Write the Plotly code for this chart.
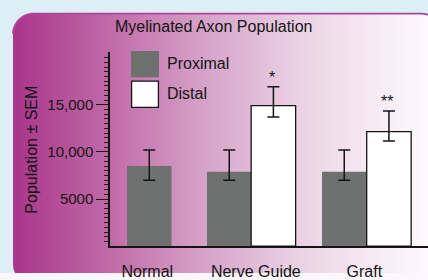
import numpy as np
import plotly.graph_objects as go

# ---------------- data ----------------
categories = ["Normal", "Nerve Guide", "Graft"]
proximal_mean = [8500, 7900, 7900]
proximal_err_plus = [1700, 2300, 2300]
proximal_err_minus = [1500, 900, 900]

distal_categories = ["Nerve Guide", "Graft"]
distal_mean = [14900, 12150]
distal_err_plus = [2000, 2200]
distal_err_minus = [1200, 1000]
significance = ["*", "**"]

y_tick_values = [5000, 10000, 15000]
y_tick_labels = ["5000", "10,000", "15,000"]

title_text = "Myelinated Axon Population"
y_title_text = "Population ± SEM"
legend_names = ["Proximal", "Distal"]

# ---------------- styling / layout ----------------
W, H = 428, 280
FONT = "Liberation Sans, Arial, Helvetica, sans-serif"
TXT = "#141414"
GRAY = "#6f7070"
OUTER = "#ddeef7"
PANEL_END = "#fcf7fa"
BORDER = "#b0439b"

# bar placement (category units)
bar_w = 0.41
prox_offsets = [-0.187, -0.450, -0.390]
dist_offsets = [-0.043, 0.022]
sig_xshift = [16, 23]

# panel geometry (pixels)
PX0, PY0, PX1, PY1, PR = 13, 14, 442, 292, 21
grad_stops_x = [13, 110, 200, 300, 365, 428]
grad_stops_rgb = [(168, 53, 138), (193, 106, 168), (213, 160, 200),
                  (234, 210, 228), (245, 232, 241), (253, 249, 252)]


def grad_color(x):
    arr = np.array(grad_stops_rgb, dtype=float)
    r = np.interp(x, grad_stops_x, arr[:, 0])
    g = np.interp(x, grad_stops_x, arr[:, 1])
    b = np.interp(x, grad_stops_x, arr[:, 2])
    return f"rgb({int(round(r))},{int(round(g))},{int(round(b))})"


def arc(cx, cy, r, a0, a1, n=16):
    t = np.linspace(a0, a1, n)
    return list(zip(cx + r * np.cos(t), cy + r * np.sin(t)))


def to_path(pts, close=True):
    s = "M " + " L ".join(f"{x:.2f},{y:.2f}" for x, y in pts)
    return s + (" Z" if close else "")


shapes = []
# gradient strips
step = 2
for x0 in range(PX0, W + 4, step):
    shapes.append(dict(type="rect", xref="x", yref="y", x0=x0, x1=x0 + step + 0.6,
                       y0=PY0, y1=H + 10, fillcolor=grad_color(x0 + step / 2),
                       line=dict(width=0), layer="below"))

# outer (page) background bands
shapes.append(dict(type="rect", xref="x", yref="y", x0=-5, x1=W + 5, y0=-5, y1=PY0,
                   fillcolor=OUTER, line=dict(width=0), layer="below"))
shapes.append(dict(type="rect", xref="x", yref="y", x0=-5, x1=PX0, y0=-5, y1=H + 5,
                   fillcolor=OUTER, line=dict(width=0), layer="below"))

# corner masks
tl = arc(PX0 + PR, PY0 + PR, PR, np.pi, 1.5 * np.pi)
shapes.append(dict(type="path", xref="x", yref="y", layer="below",
                   path=to_path([(PX0 - 1, PY0 - 1), (PX0 - 1, PY0 + PR)] + tl + [(PX0 + PR, PY0 - 1)]),
                   fillcolor=OUTER, line=dict(width=0)))
tr = [p for p in arc(PX1 - PR, PY0 + PR, PR, -0.5 * np.pi, 0, 40) if p[0] <= W + 0.5]
shapes.append(dict(type="path", xref="x", yref="y", layer="below",
                   path=to_path([(PX1 - PR, PY0 - 1)] + tr + [(W + 1, tr[-1][1]), (W + 1, PY0 - 1)]),
                   fillcolor=OUTER, line=dict(width=0)))
bl_theta0 = np.pi - np.arcsin((H - (PY1 - PR)) / PR)
bl = arc(PX0 + PR, PY1 - PR, PR, np.pi, bl_theta0, 8)
shapes.append(dict(type="path", xref="x", yref="y", layer="below",
                   path=to_path([(PX0 - 1, PY1 - PR)] + bl + [(bl[-1][0], H + 1), (PX0 - 1, H + 1)]),
                   fillcolor=OUTER, line=dict(width=0)))
# top border line
shapes.append(dict(type="path", xref="x", yref="y", layer="below",
                   path=to_path(tl + tr, close=False),
                   line=dict(color=BORDER, width=1.8)))

# legend swatches
shapes += [
    dict(type="rect", x0=131, x1=159, y0=52.3, y1=79.3, xref="x", yref="y",
         fillcolor=GRAY, line=dict(width=0), layer="above"),
    dict(type="rect", x0=131.6, x1=158.4, y0=83.3, y1=110.2, xref="x", yref="y",
         fillcolor="white", line=dict(color=TXT, width=1.3), layer="above"),
]

fig = go.Figure()

# invisible anchor trace for the pixel-coordinate axes
fig.add_trace(go.Scatter(x=[0, W], y=[0, H], mode="markers", marker=dict(opacity=0),
                         hoverinfo="skip", showlegend=False, xaxis="x", yaxis="y"))

# proximal bars
fig.add_trace(go.Bar(
    x=categories, y=proximal_mean, name=legend_names[0],
    offset=prox_offsets, width=bar_w,
    marker=dict(color=GRAY, line=dict(width=0)),
    error_y=dict(type="data", symmetric=False, array=proximal_err_plus,
                 arrayminus=proximal_err_minus, color=TXT, thickness=1.5, width=6),
    xaxis="x2", yaxis="y2", showlegend=False,
))

# distal bars
fig.add_trace(go.Bar(
    x=distal_categories, y=distal_mean, name=legend_names[1],
    offset=dist_offsets, width=bar_w,
    marker=dict(color="white", line=dict(color=TXT, width=1.3)),
    error_y=dict(type="data", symmetric=False, array=distal_err_plus,
                 arrayminus=distal_err_minus, color=TXT, thickness=1.5, width=6),
    xaxis="x2", yaxis="y2", showlegend=False,
))

annotations = [
    dict(text=title_text, x=213, y=27, xref="x", yref="y", showarrow=False,
         font=dict(size=16, color=TXT, family=FONT), xanchor="center", yanchor="middle"),
    dict(text=y_title_text, x=31.5, y=154, xref="x", yref="y", showarrow=False,
         textangle=-90, font=dict(size=16, color=TXT, family=FONT),
         xanchor="center", yanchor="middle"),
    dict(text=legend_names[0], x=165, y=65, xref="x", yref="y", showarrow=False,
         font=dict(size=16, color=TXT, family=FONT), xanchor="left", yanchor="middle"),
    dict(text=legend_names[1], x=165, y=96, xref="x", yref="y", showarrow=False,
         font=dict(size=16, color=TXT, family=FONT), xanchor="left", yanchor="middle"),
]
for cat, m, e, s, xs in zip(distal_categories, distal_mean, distal_err_plus,
                            significance, sig_xshift):
    annotations.append(dict(text=s, x=cat, y=m + e, xref="x2", yref="y2",
                            showarrow=False, xshift=xs, yanchor="bottom", yshift=-1,
                            font=dict(size=16, color=TXT, family=FONT)))

minor_vals = [v for v in range(500, 20001, 500) if v not in y_tick_values]

fig.update_layout(
    width=W, height=H, margin=dict(l=0, r=0, t=0, b=0),
    paper_bgcolor=PANEL_END, plot_bgcolor="rgba(0,0,0,0)",
    barmode="overlay", showlegend=False,
    font=dict(family=FONT, color=TXT),
    xaxis=dict(domain=[0, 1], range=[0, W], visible=False, fixedrange=True),
    yaxis=dict(domain=[0, 1], range=[H, 0], visible=False, fixedrange=True),
    xaxis2=dict(domain=[110 / W, 1], anchor="y2", type="category",
                categoryorder="array", categoryarray=categories,
                range=[-0.344, 2.587], showline=True, linecolor=TXT, linewidth=1.5,
                ticks="", showgrid=False, zeroline=False,
                tickfont=dict(size=16, color=TXT, family=FONT),
                ticklabelstandoff=10),
    yaxis2=dict(domain=[27.5 / H, 226.7 / H], anchor="x2", range=[0, 20600],
                showline=True, linecolor=TXT, linewidth=1.5,
                ticks="outside", ticklen=12, tickwidth=1.2, tickcolor=TXT,
                tickmode="array", tickvals=y_tick_values, ticktext=y_tick_labels,
                tickfont=dict(size=15, color=TXT, family=FONT),
                showgrid=False, zeroline=False,
                minor=dict(tickmode="array", tickvals=minor_vals, ticks="outside",
                           ticklen=4.5, tickwidth=1, tickcolor=TXT, showgrid=False)),
    annotations=annotations, shapes=shapes,
)

fig.write_html(
    "out.html",
    config={"displayModeBar": False},
    post_script="document.body.style.margin='0';document.body.style.overflow='hidden';",
)
